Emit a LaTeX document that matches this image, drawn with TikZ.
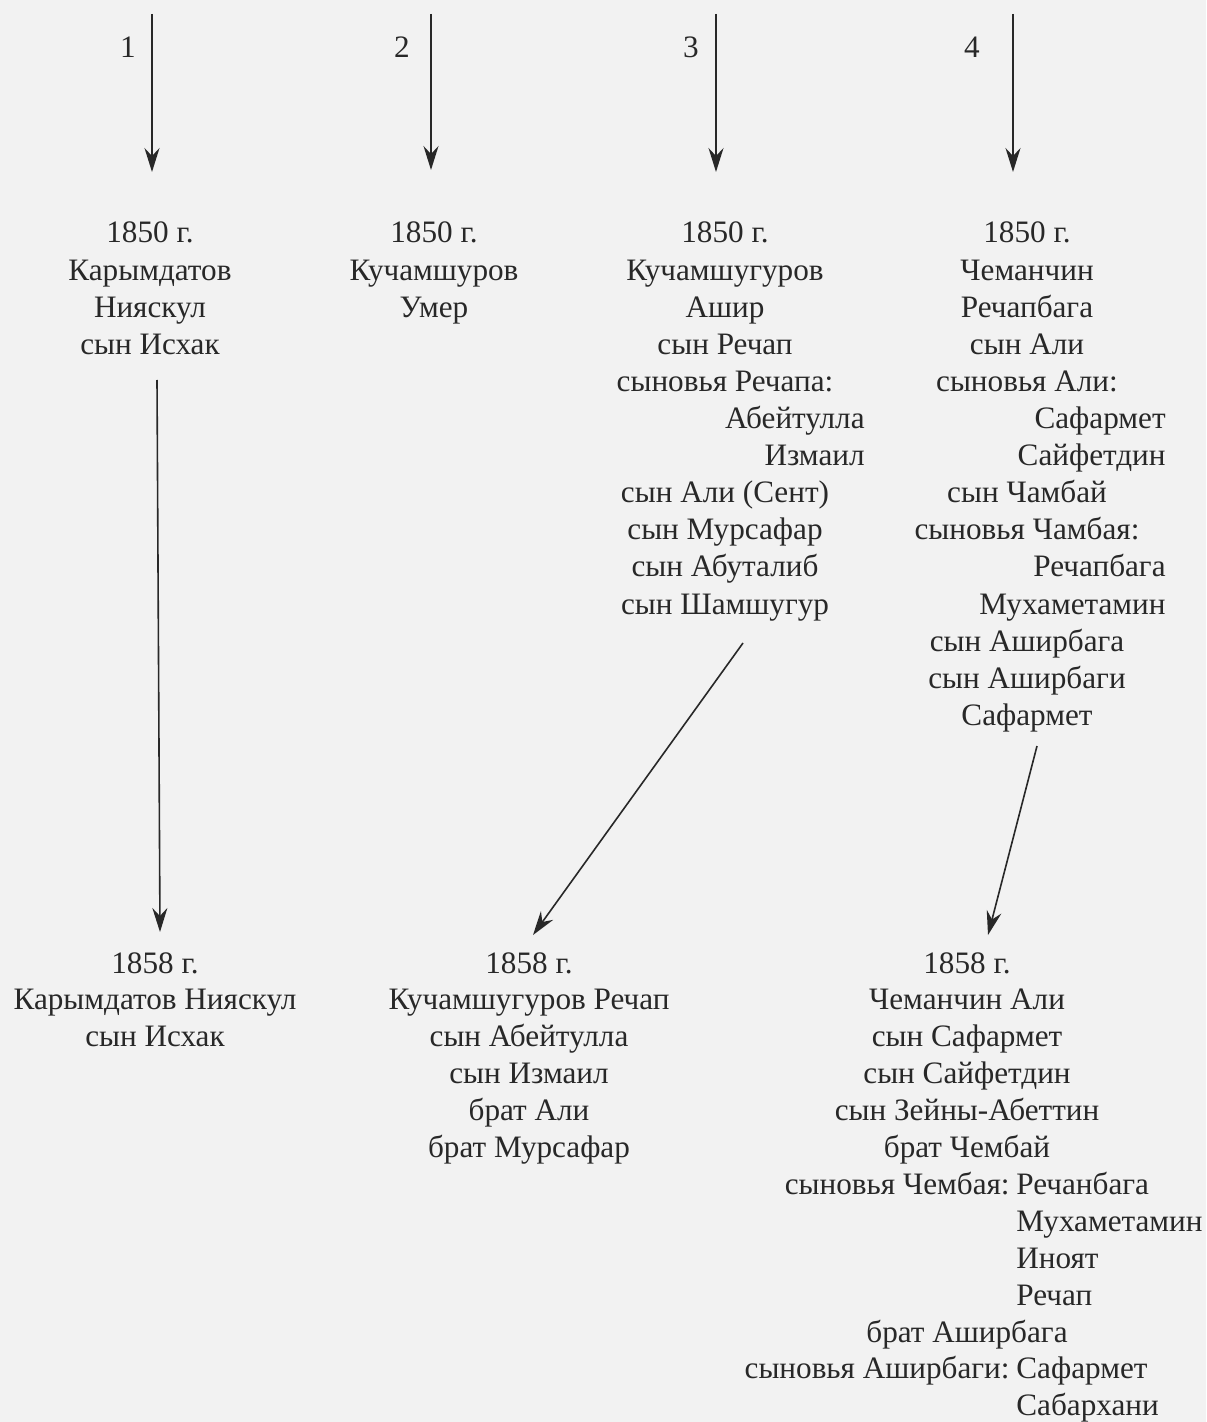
\documentclass[tikz,border=0pt]{standalone}
\usepackage{fontspec}
\setmainfont{Liberation Serif}
\usetikzlibrary{arrows.meta}
\definecolor{ink}{RGB}{40,40,40}
\definecolor{paper}{RGB}{242,242,242}
\begin{document}
\begin{tikzpicture}[x=0.5pt,y=-0.5pt,
  txt/.style={inner sep=0pt, text=ink, font=\fontsize{15.6pt}{19pt}\selectfont},
  ctr/.style={txt, anchor=base},
  rgt/.style={txt, anchor=base east},
  lft/.style={txt, anchor=base west},
  arr/.style={draw=ink, line width=0.8pt, -{Stealth[length=12pt,width=7.5pt,inset=4pt]}}]
\fill[paper] (0,0) rectangle (1206,1422);
\useasboundingbox (0,0) rectangle (1206,1422);

% column labels and top arrows
\node[ctr] (n1) at (128,58) {1};
\node[ctr] (n2) at (402,58) {2};
\node[ctr] (n3) at (691,58) {3};
\node[ctr] (n4) at (972,58) {4};
\coordinate (s1) at (152,14);  \coordinate (e1) at (152,172);
\coordinate (s2) at (431,14);  \coordinate (e2) at (431,170);
\coordinate (s3) at (716,14);  \coordinate (e3) at (716,172);
\coordinate (s4) at (1013,14); \coordinate (e4) at (1013,172);
\draw[arr] (s1) -- (e1);
\draw[arr] (s2) -- (e2);
\draw[arr] (s3) -- (e3);
\draw[arr] (s4) -- (e4);

% 1850, column 1
\node[ctr] (a0) at (150,243) {1850 г.};
\node[ctr] (a1) at (150,280.1) {Карымдатов};
\node[ctr] (a2) at (150,317.2) {Нияскул};
\node[ctr] (a3) at (150,354.3) {сын Исхак};

% 1850, column 2
\node[ctr] (b0) at (434,243) {1850 г.};
\node[ctr] (b1) at (434,280.1) {Кучамшуров};
\node[ctr] (b2) at (434,317.2) {Умер};

% 1850, column 3
\node[ctr] (c0) at (725,243) {1850 г.};
\node[ctr] (c1) at (725,280.1) {Кучамшугуров};
\node[ctr] (c2) at (725,317.2) {Ашир};
\node[ctr] (c3) at (725,354.3) {сын Речап};
\node[ctr] (c4) at (725,391.4) {сыновья Речапа:};
\node[rgt] (c5) at (865,428.5) {Абейтулла};
\node[rgt] (c6) at (865,465.6) {Измаил};
\node[ctr] (c7) at (725,502.7) {сын Али (Сент)};
\node[ctr] (c8) at (725,539.8) {сын Мурсафар};
\node[ctr] (c9) at (725,576.9) {сын Абуталиб};
\node[ctr] (c10) at (725,614) {сын Шамшугур};

% 1850, column 4
\node[ctr] (d0) at (1027,243) {1850 г.};
\node[ctr] (d1) at (1027,280.1) {Чеманчин};
\node[ctr] (d2) at (1027,317.2) {Речапбага};
\node[ctr] (d3) at (1027,354.3) {сын Али};
\node[ctr] (d4) at (1027,391.4) {сыновья Али:};
\node[rgt] (d5) at (1166,428.5) {Сафармет};
\node[rgt] (d6) at (1166,465.6) {Сайфетдин};
\node[ctr] (d7) at (1027,502.7) {сын Чамбай};
\node[ctr] (d8) at (1027,539.8) {сыновья Чамбая:};
\node[rgt] (d9) at (1166,576.9) {Речапбага};
\node[rgt] (d10) at (1166,614) {Мухаметамин};
\node[ctr] (d11) at (1027,651.1) {сын Аширбага};
\node[ctr] (d12) at (1027,688.2) {сын Аширбаги};
\node[ctr] (d13) at (1027,725.3) {Сафармет};

% 1858, column 1
\node[ctr] (p0) at (155,973) {1858 г.};
\node[ctr] (p1) at (155,1009.9) {Карымдатов Нияскул};
\node[ctr] (p2) at (155,1046.8) {сын Исхак};

% 1858, column 2
\node[ctr] (q0) at (529,973) {1858 г.};
\node[ctr] (q1) at (529,1009.9) {Кучамшугуров Речап};
\node[ctr] (q2) at (529,1046.8) {сын Абейтулла};
\node[ctr] (q3) at (529,1083.7) {сын Измаил};
\node[ctr] (q4) at (529,1120.6) {брат Али};
\node[ctr] (q5) at (529,1157.5) {брат Мурсафар};

% 1858, column 3
\node[ctr] (r0) at (967,973) {1858 г.};
\node[ctr] (r1) at (967,1009.9) {Чеманчин Али};
\node[ctr] (r2) at (967,1046.8) {сын Сафармет};
\node[ctr] (r3) at (967,1083.7) {сын Сайфетдин};
\node[ctr] (r4) at (967,1120.6) {сын Зейны-Абеттин};
\node[ctr] (r5) at (967,1157.5) {брат Чембай};
\node[rgt] (r6a) at (1010,1194.4) {сыновья Чембая:};
\node[lft] (r6b) at (1016,1194.4) {Речанбага};
\node[lft] (r7) at (1016,1231.3) {Мухаметамин};
\node[lft] (r8) at (1016,1268.2) {Иноят};
\node[lft] (r9) at (1016,1305.1) {Речап};
\node[ctr] (r10) at (967,1342) {брат Аширбага};
\node[rgt] (r11a) at (1010,1378.9) {сыновья Аширбаги:};
\node[lft] (r11b) at (1016,1378.9) {Сафармет};
\node[lft] (r12) at (1016,1415.8) {Сабархани};

% connectors between the two years
\coordinate (f1) at (157,380);  \coordinate (g1) at (160,932);
\coordinate (f3) at (743,643);  \coordinate (g3) at (533,935);
\coordinate (f4) at (1037,746); \coordinate (g4) at (988,935);
\draw[arr] (f1) -- (g1);
\draw[arr] (f3) -- (g3);
\draw[arr] (f4) -- (g4);
\end{tikzpicture}
\end{document}
